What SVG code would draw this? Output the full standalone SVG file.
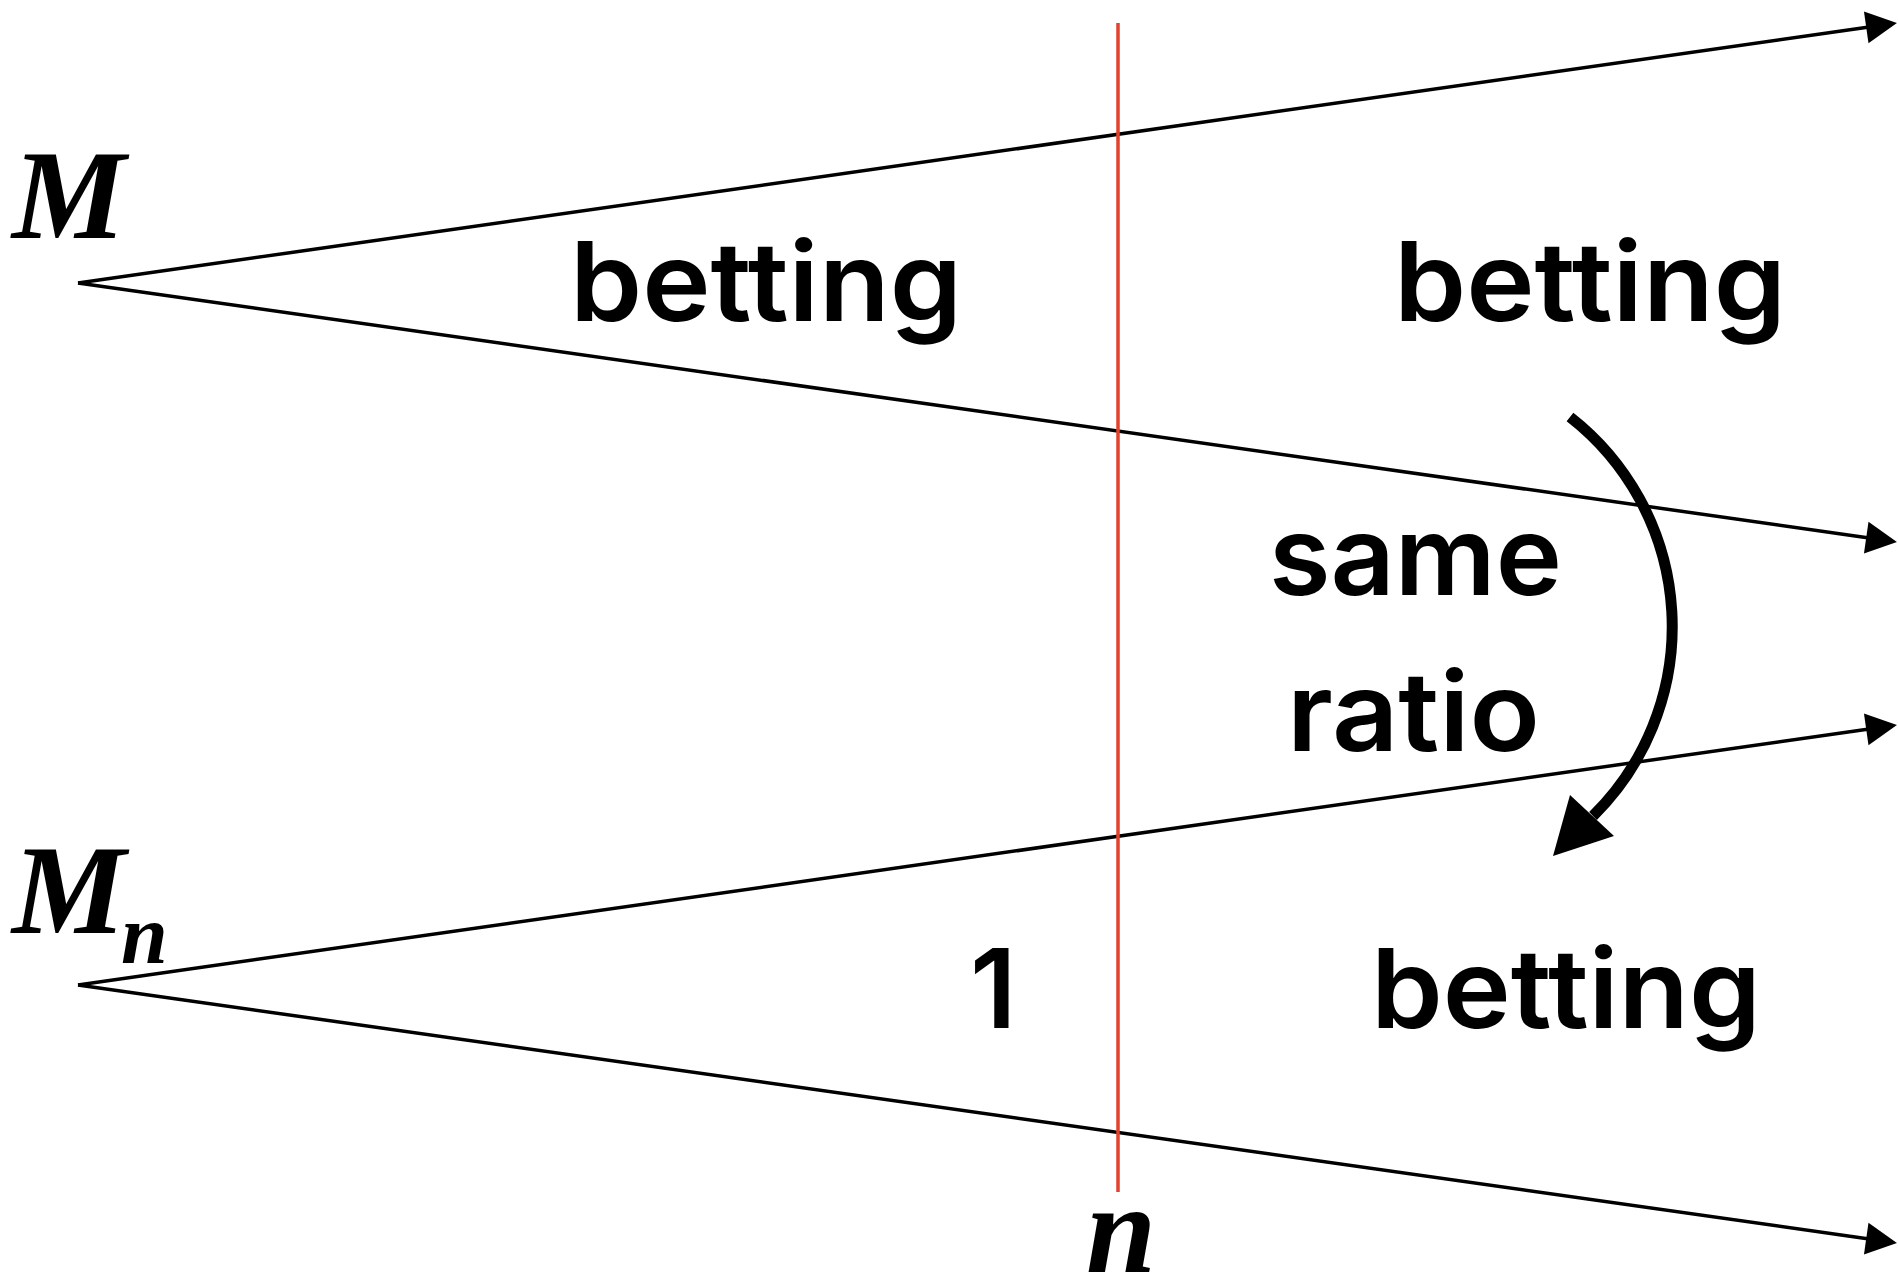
<svg xmlns="http://www.w3.org/2000/svg" width="1898" height="1285" viewBox="0 0 1898 1285">
<style>
.ray{stroke:#000;stroke-width:3.5;fill:none;marker-end:url(#ah)}
.lbl{font-family:Inter,"Noto Sans","Liberation Sans",sans-serif;font-size:110px;font-weight:600;fill:#000}
.math{font-family:"Liberation Serif","Times New Roman",serif;font-style:italic;font-weight:bold;fill:#000}
</style>
<defs>
<marker id="ah" markerUnits="userSpaceOnUse" markerWidth="40" markerHeight="40" refX="3" refY="20" orient="auto" overflow="visible">
<path d="M0,4 L31,20 L0,36 z" fill="#000"/>
</marker>
</defs>
<rect width="1898" height="1285" fill="#fff"/>
<g id="connectors">
<line class="ray" x1="78" y1="283" x2="1869.2" y2="26.9"/>
<line class="ray" x1="78" y1="283" x2="1869.2" y2="538.0"/>
<line class="ray" x1="78" y1="985" x2="1869.2" y2="728.9"/>
<line class="ray" x1="78" y1="985" x2="1869.2" y2="1239.0"/>
<line id="divider" x1="1118" y1="23" x2="1118" y2="1192" stroke="#E2412E" stroke-width="3.5"/>
<g id="same-ratio-arrow">
<path d="M1570,417 A266,266 0 0 1 1593,816" fill="none" stroke="#000" stroke-width="11"/>
<polygon points="1553,856 1570,795 1614,836" fill="#000"/>
</g>
</g>
<g id="label-M"><text class="math" x="12" y="238" font-size="128">M</text></g>
<g id="label-Mn"><text class="math" x="12" y="933" font-size="128">M</text><text class="math" x="121" y="963" font-size="84">n</text></g>
<g id="label-n"><text class="math" x="1086" y="1272" font-size="126">n</text></g>
<g id="text-betting-1"><text class="lbl" x="570" y="321" textLength="392" lengthAdjust="spacingAndGlyphs">betting</text></g>
<g id="text-betting-2"><text class="lbl" x="1394" y="321" textLength="392" lengthAdjust="spacingAndGlyphs">betting</text></g>
<g id="text-betting-3"><text class="lbl" x="1371" y="1028" textLength="390" lengthAdjust="spacingAndGlyphs">betting</text></g>
<g id="text-1"><text class="lbl" x="970" y="1028">1</text></g>
<g id="text-same-ratio">
<text class="lbl" x="1269" y="595" textLength="293" lengthAdjust="spacingAndGlyphs">same</text>
<text class="lbl" x="1287" y="751" textLength="253" lengthAdjust="spacingAndGlyphs">ratio</text>
</g>
</svg>
